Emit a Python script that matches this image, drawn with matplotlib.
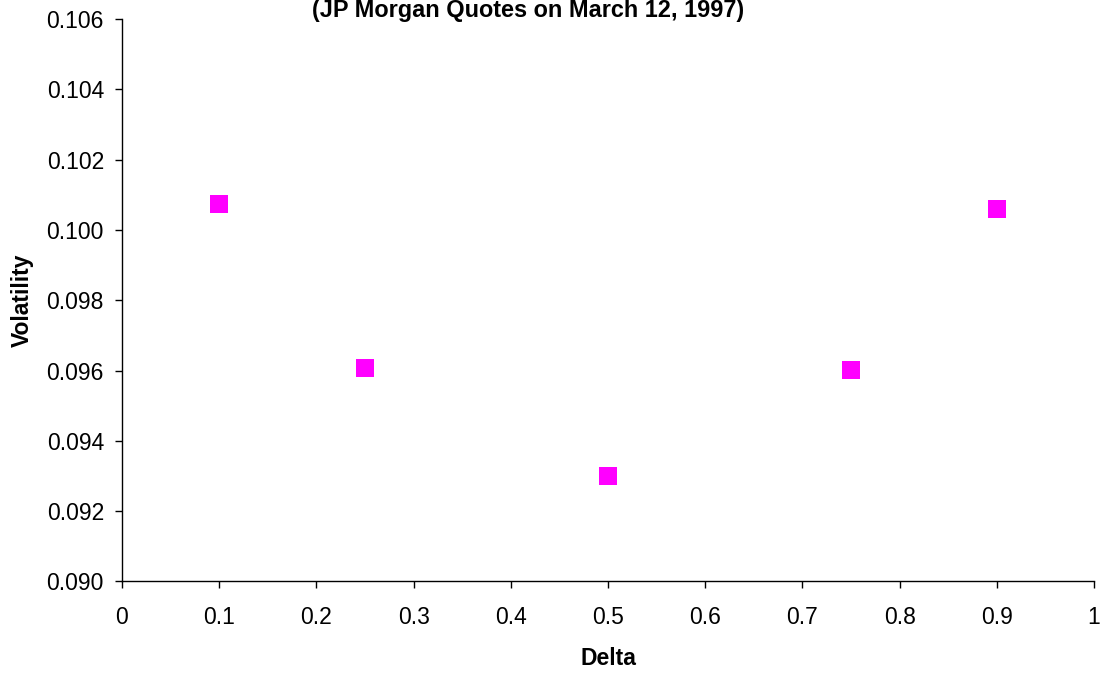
import matplotlib
matplotlib.use("Agg")
import matplotlib.pyplot as plt

delta = [0.10, 0.25, 0.50, 0.75, 0.90]
volatility = [0.10074, 0.09608, 0.09300, 0.09601, 0.10059]
x_ticks = [0, 0.1, 0.2, 0.3, 0.4, 0.5, 0.6, 0.7, 0.8, 0.9, 1]
x_tick_labels = ["0", "0.1", "0.2", "0.3", "0.4", "0.5", "0.6", "0.7", "0.8", "0.9", "1"]
y_ticks = [0.090, 0.092, 0.094, 0.096, 0.098, 0.100, 0.102, 0.104, 0.106]
title = "(JP Morgan Quotes on March 12, 1997)"

plt.rcParams['font.family'] = ['Liberation Sans', 'DejaVu Sans']

W, H = 1105, 675
FS = 16.5
fig = plt.figure(figsize=(W / 100, H / 100), dpi=100)
ax = fig.add_axes([122 / W, 1 - 581.4 / H, (1094 - 122) / W, (581.4 - 19) / H])

ax.scatter(delta, volatility, marker='s', s=13.2**2, color='#FF00FF', linewidths=0, zorder=3, clip_on=False)

ax.set_xlim(0, 1)
ax.set_ylim(0.090, 0.106)
ax.set_xticks(x_ticks)
ax.set_xticklabels(x_tick_labels)
ax.set_yticks(y_ticks)
ax.set_yticklabels([f"{v:.3f}" for v in y_ticks])
ax.tick_params(direction='out', length=5, width=1, color='black', labelsize=FS)
ax.tick_params(axis='x', pad=13)
ax.tick_params(axis='y', pad=8)
for s in ['top', 'right']:
    ax.spines[s].set_visible(False)
for s in ['left', 'bottom']:
    ax.spines[s].set_color('black')
    ax.spines[s].set_linewidth(1)

ax.set_xlabel("Delta", fontsize=FS, fontweight='bold', labelpad=12.5)
ax.set_ylabel("Volatility", fontsize=FS, fontweight='bold', labelpad=9.5)
fig.text(528 / W, 1 - 17.3 / H, title, ha='center', va='baseline', fontsize=16.9, fontweight='bold')

fig.savefig("out.png", dpi=100)
